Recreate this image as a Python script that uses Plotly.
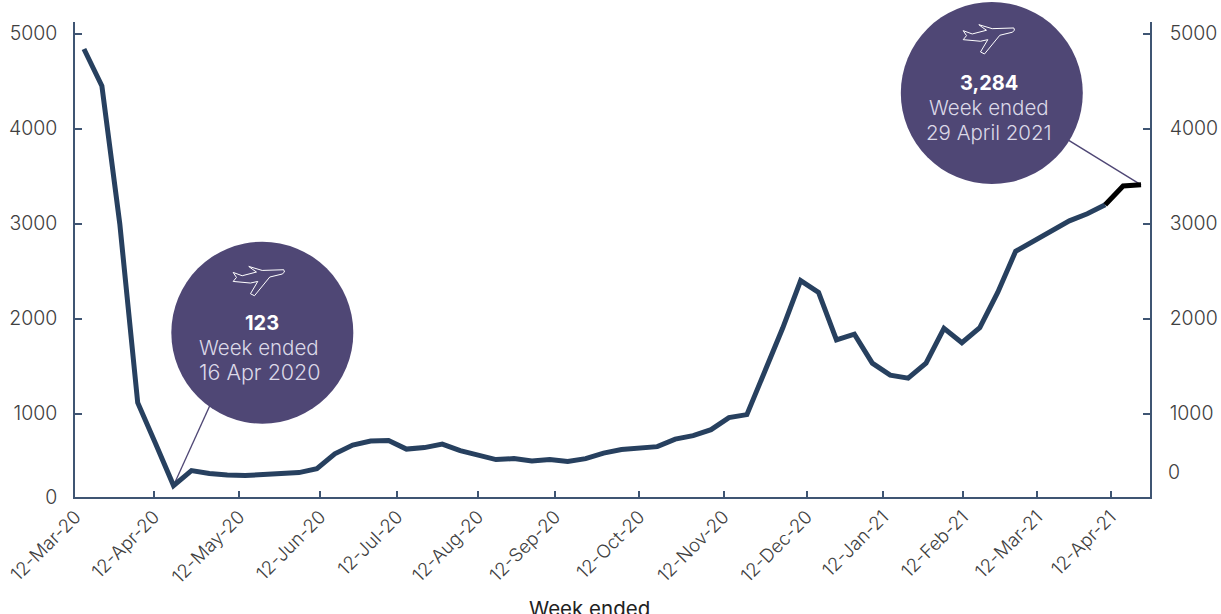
import plotly.graph_objects as go

weekly_values = [4837, 4448, 2997, 1115, 683, 242, 400, 369, 353, 348, 358, 374, 379, 421, 576, 668, 711, 716, 626, 642,
                 679, 610, 558, 516, 526, 500, 516, 495, 526, 584, 621, 642, 652, 731, 768, 831, 957, 989, 1435, 1900,
                 2400, 2275, 1775, 1836, 1531, 1405, 1373, 1531, 1897, 1745, 1905, 2275, 2708, 2818, 2923, 3028, 3102,
                 3197, 3396, 3407]
week_index = list(range(len(weekly_values)))
highlight_from = 57

tick_positions = [-0.47, 3.91, 8.67, 13.19, 17.49, 22.0, 26.3, 31.0, 35.7, 40.35, 44.6, 49.05, 53.2, 57.3]
tick_labels = ["12-Mar-20", "12-Apr-20", "12-May-20", "12-Jun-20", "12-Jul-20", "12-Aug-20", "12-Sep-20",
               "12-Oct-20", "12-Nov-20", "12-Dec-20", "12-Jan-21", "12-Feb-21", "12-Mar-21", "12-Apr-21"]
left_ticks = [122, 1000, 2000, 3000, 4000, 5000]
left_labels = ["0", "1000", "2000", "3000", "4000", "5000"]
right_ticks = [1000, 2000, 3000, 4000, 5000]
right_zero_at = 389

bubble_x = [9.955, 50.67]
bubble_y = [1851, 4374]
plane_paper_x = [0.1744, 0.8535]
plane_paper_y = [0.4574, 0.9664]
leader_left_x = [5, 8.0]
leader_left_y = [242, 1489]
leader_right_x = [59, 50.67]
leader_right_y = [3407, 4374]
bubble_lines = [
    ["<b>123</b>", "Week ended", "16 Apr 2020"],
    ["<b>3,284</b>", "Week ended", "29 April 2021"],
]
bubble_line_dx = [[0, -3, -2], [-3, -3, -3]]
bubble_line_size = [[20, 20.5, 21.5], [20, 20.5, 20.5]]

NAVY = "#27405f"
PURPLE = "#4f4775"
AXIS = "#3f5573"
FONT = "Inter"
PLANE = ("M 21.3,10 L -0.3,9.3 L -13.7,13.3 L -10.3,10.7 L -6,7.7 L -20.3,4 L -29.3,7.3 L -26,2.3 "
         "L -29.3,-1.7 L -12,-3.3 L -4.7,-1.7 L -12,-14 L -8,-16 L 7.3,2.7 L 19.7,5.7 L 22,7.7 Z")

fig = go.Figure()
fig.add_trace(go.Scatter(x=leader_left_x, y=leader_left_y, mode="lines", line=dict(color=PURPLE, width=1.3),
                         hoverinfo="skip"))
fig.add_trace(go.Scatter(x=leader_right_x, y=leader_right_y, mode="lines", line=dict(color=PURPLE, width=1.3),
                         hoverinfo="skip"))
fig.add_trace(go.Scatter(x=bubble_x, y=bubble_y, mode="markers", cliponaxis=False,
                         marker=dict(size=182, color=PURPLE, line=dict(width=0)), hoverinfo="skip"))
fig.add_trace(go.Scatter(x=week_index[:highlight_from + 1], y=weekly_values[:highlight_from + 1], mode="lines",
                         yaxis="y2", line=dict(color=NAVY, width=5, shape="linear"), hoverinfo="skip"))
fig.add_trace(go.Scatter(x=week_index[highlight_from:], y=weekly_values[highlight_from:], mode="lines",
                         yaxis="y2", line=dict(color="#000000", width=5), hoverinfo="skip"))

annotations = []
for bx, by, lines, dxs, sizes in zip(bubble_x, bubble_y, bubble_lines, bubble_line_dx, bubble_line_size):
    for k, (text, dx, size) in enumerate(zip(lines, dxs, sizes)):
        annotations.append(dict(
            x=bx, y=by, xref="x", yref="y", text=text, showarrow=False, xshift=dx, yshift=9.5 - 24.5 * k,
            font=dict(family=FONT, size=size, color="#ffffff" if k == 0 else "#dcd9e8",
                      weight=700 if k == 0 else 300),
        ))
annotations.append(dict(x=1, y=right_zero_at, xref="paper", yref="y", text="0", showarrow=False,
                        xanchor="left", xshift=16, font=dict(family=FONT, size=19.5, color="#404040", weight=300)))
annotations.append(dict(x=0.4785, y=-0.205, xref="paper", yref="paper", yanchor="top", text="Week ended",
                        showarrow=False, font=dict(family=FONT, size=20.5, color="#222222", weight=400)))

shapes = [dict(type="path", path=PLANE, xsizemode="pixel", ysizemode="pixel", xanchor=px, yanchor=py,
               xref="paper", yref="paper", line=dict(color="#ffffff", width=1), fillcolor="rgba(0,0,0,0)",
               layer="above")
          for px, py in zip(plane_paper_x, plane_paper_y)]

y_font = dict(family=FONT, size=19.5, color="#404040", weight=300)
x_font = dict(family=FONT, size=18.5, color="#404040", weight=300)
common = dict(tickcolor=AXIS, tickwidth=1.5, showline=True, linecolor=AXIS, linewidth=1.5, showgrid=False,
              zeroline=False, automargin=False, ticks="inside", tickmode="array")
fig.update_layout(
    width=1221, height=614, autosize=False, showlegend=False,
    plot_bgcolor="#ffffff", paper_bgcolor="#ffffff",
    margin=dict(l=74.5, r=71, t=22, b=116.5, pad=0),
    annotations=annotations, shapes=shapes,
    xaxis=dict(range=[-0.5, 59.5], tickvals=tick_positions, ticktext=tick_labels, tickangle=-45,
               ticklen=6, ticklabelstandoff=0, tickfont=x_font, **common),
    yaxis=dict(range=[122, 5121], tickvals=left_ticks, ticktext=left_labels, ticklen=7, ticklabelstandoff=12,
               tickfont=y_font, **common),
    yaxis2=dict(range=[122, 5121], overlaying="y", side="right", tickvals=right_ticks, ticklen=7,
                ticklabelstandoff=14, tickfont=y_font, **common),
)
fig.write_html("out.html", config=dict(displayModeBar=False),
               post_script="document.body.style.margin='0';document.body.style.overflow='hidden';")
